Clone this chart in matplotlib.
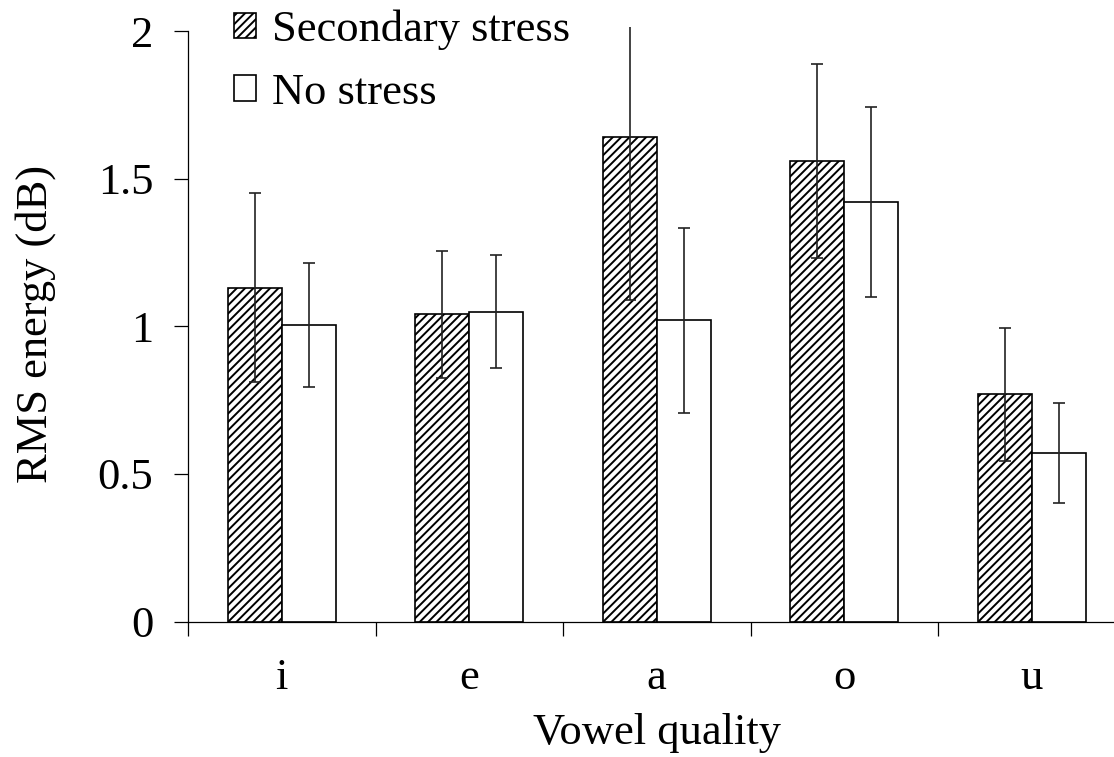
import matplotlib
matplotlib.use("Agg")
import matplotlib.pyplot as plt
import numpy as np

categories = ["i", "e", "a", "o", "u"]
secondary = [1.13, 1.04, 1.64, 1.56, 0.77]
secondary_err = [0.32, 0.215, 0.55, 0.33, 0.225]
no_stress = [1.005, 1.05, 1.02, 1.42, 0.57]
no_stress_err = [0.21, 0.19, 0.313, 0.322, 0.17]
yticks = [0, 0.5, 1, 1.5, 2]
yticklabels = ["0", "0.5", "1", "1.5", "2"]

plt.rcParams['font.family'] = ['Liberation Serif', 'DejaVu Serif']
plt.rcParams['hatch.linewidth'] = 1.4
plt.rcParams['hatch.color'] = 'black'

FS = 32
W, H = 1114, 757
fig = plt.figure(figsize=(W / 100, H / 100), dpi=100)
x0, x1 = 188, 1125.5
y0 = 621.5
unit = 295.2
ytop = 2.015
ax = fig.add_axes([x0 / W, (H - y0) / H, (x1 - x0) / W, ytop * unit / H])

x = np.arange(len(categories)) + 0.5
w = 0.2875
ekw = dict(ecolor='#222222', elinewidth=1.2, capsize=4.5, capthick=1.2)
ax.bar(x - w / 2, secondary, w, yerr=secondary_err, color='white', edgecolor='black',
       linewidth=1.2, hatch='////', label='Secondary stress', error_kw=ekw, zorder=2)
ax.bar(x + w / 2, no_stress, w, yerr=no_stress_err, color='white', edgecolor='black',
       linewidth=1.2, label='No stress', error_kw=ekw, zorder=2)

ax.set_xlim(0, len(categories))
ax.set_ylim(0, ytop)
ax.spines['top'].set_visible(False)
ax.spines['right'].set_visible(False)
ax.spines['left'].set_bounds(0, 2)
ax.spines['left'].set_linewidth(0.9)
ax.spines['bottom'].set_linewidth(0.9)

ax.set_yticks(yticks)
ax.set_yticklabels(yticklabels)
ax.set_xticks(np.arange(len(categories) + 1))
ax.set_xticklabels([])
ax.set_xticks(x, minor=True)
ax.set_xticklabels(categories, minor=True)
ax.tick_params(axis='x', which='major', direction='out', length=10, width=0.9)
ax.tick_params(axis='x', which='minor', length=0, labelsize=FS, pad=26)
ax.tick_params(axis='y', direction='out', length=10, width=0.9, labelsize=FS, pad=15)

ax.set_xlabel('Vowel quality', fontsize=FS, labelpad=11)
ax.set_ylabel('RMS energy (dB)', fontsize=FS, labelpad=30)

leg = ax.legend(loc='upper left', bbox_to_anchor=(234 / W, 1 - 10 / H), bbox_transform=fig.transFigure,
                frameon=False, fontsize=FS, handlelength=0.5, handleheight=0.5,
                handletextpad=0.35, labelspacing=0.5, borderpad=0, borderaxespad=0)

fig.savefig('out.png', dpi=100)
